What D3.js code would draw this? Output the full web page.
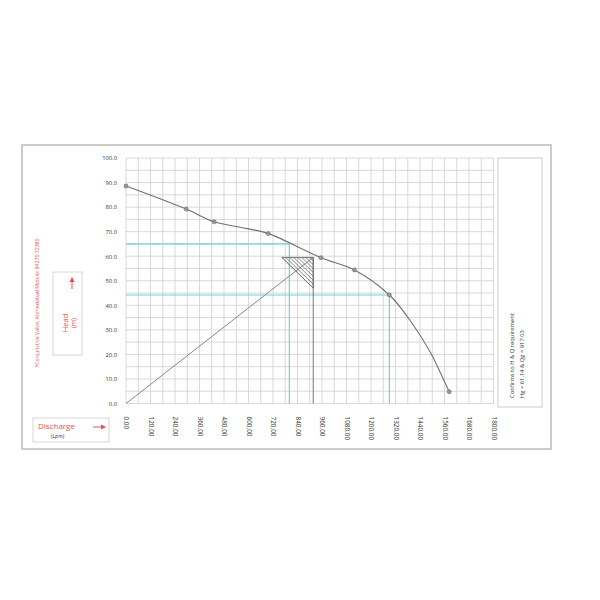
<!DOCTYPE html>
<html>
<head>
<meta charset="utf-8">
<script src="https://cdn.jsdelivr.net/npm/d3@7"></script>
<style>
  body { margin: 0; background: #fff; }
  text { font-family: "Open Sans", "DejaVu Sans", sans-serif; }
</style>
</head>
<body>
<div></div>
<script>
const width = 600;
const height = 600;

// test points (discharge Lpm, head m)
const discharge = [0, 295, 432, 697, 955, 1119, 1290, 1583];
const head = [88.6, 79.2, 74.0, 69.2, 59.4, 54.4, 44.2, 4.8];

// traced curve through the points
const curveQ = [0, 295, 432, 559, 697, 955, 1119, 1290, 1390, 1490, 1545, 1583];
const curveH = [88.6, 79.2, 74.0, 71.8, 69.2, 59.4, 54.4, 44.2, 34.0, 21.0, 11.6, 4.8];

// guide lines
const guideA = [[0, 65], [800, 65], [800, 0]];
const guideB = [[0, 44.2], [1290, 44.2], [1290, 0]];
const dutyLine = [[0, 0], [917, 59.5]];
const dutyDrop = [[917, 0], [917, 59.5]];
const triangle = [[763, 59.5], [917, 59.5], [917, 47]];

const xTicks = d3.range(0, 1801, 120);
const yTicks = d3.range(0, 101, 10);
const xGrid = d3.range(0, 1801, 60);
const yGrid = d3.range(0, 101, 5);

const svg = d3.select('div').append('svg').attr('width', width).attr('height', height);

const x = d3.scaleLinear().domain([0, 1800]).range([126, 493.5]);
const y = d3.scaleLinear().domain([0, 100]).range([403.5, 158]);

// outer frame
svg.append('rect').attr('x', 22).attr('y', 145).attr('width', 529).attr('height', 304)
    .attr('fill', 'none').attr('stroke', '#bbb').attr('stroke-width', 1.5);

// grid
const grid = svg.append('g').attr('stroke', '#cfcfcf').attr('stroke-width', 0.8);
grid.selectAll('.gx').data(xGrid).enter().append('line')
    .attr('x1', d => x(d)).attr('x2', d => x(d)).attr('y1', y(0)).attr('y2', y(100));
grid.selectAll('.gy').data(yGrid).enter().append('line')
    .attr('x1', x(0)).attr('x2', x(1800)).attr('y1', d => y(d)).attr('y2', d => y(d));

// right note box
svg.append('rect').attr('x', 498).attr('y', 158).attr('width', 44).attr('height', 249)
    .attr('fill', '#fff').attr('stroke', '#ccc').attr('stroke-width', 1);
const note = svg.append('g').attr('transform', 'translate(514,398) rotate(-90)')
    .attr('font-size', 5.8).attr('fill', '#333');
note.append('text').attr('x', 0).attr('y', 0).text('Confirms to H & Q requirement');
note.append('text').attr('x', 0).attr('y', 10).text('Hg = 61.14 & Qg = 917.03');

// axes
const yAxis = svg.append('g').attr('transform', 'translate(' + (x(0) - 6) + ',0)')
    .call(d3.axisLeft(y).tickValues(yTicks).tickSize(0).tickFormat(d3.format('.1f')));
yAxis.select('.domain').remove();
yAxis.selectAll('text').attr('font-size', 5.8).attr('fill', '#333').attr('dy', '0.32em');

const xAxis = svg.append('g').attr('transform', 'translate(0,' + y(0) + ')')
    .call(d3.axisBottom(x).tickValues(xTicks).tickSize(0).tickFormat(d3.format('.2f')));
xAxis.select('.domain').remove();
xAxis.selectAll('text').attr('font-size', 6.4).attr('fill', '#333')
    .attr('transform', 'rotate(90)').attr('text-anchor', 'start')
    .attr('x', 13).attr('y', 0).attr('dy', '0.35em');

const line = d3.line().x(d => x(d[0])).y(d => y(d[1]));

// cyan guides
[guideA, guideB].forEach(g => {
    svg.append('path').attr('d', line(g)).attr('fill', 'none')
        .attr('stroke', '#6fd0e0').attr('stroke-width', 1.2);
});

// duty lines
svg.append('path').attr('d', line(dutyLine)).attr('fill', 'none').attr('stroke', '#888').attr('stroke-width', 1);
svg.append('path').attr('d', line(dutyDrop)).attr('fill', 'none').attr('stroke', '#777').attr('stroke-width', 1);

// hatched triangle
const defs = svg.append('defs');
defs.append('clipPath').attr('id', 'tri').append('path').attr('d', line(triangle) + 'Z');
const hatch = svg.append('g').attr('clip-path', 'url(#tri)');
const tx0 = x(triangle[0][0]), ty0 = y(triangle[0][1]);
const tx1 = x(triangle[1][0]), ty2 = y(triangle[2][1]);
const slope = (ty2 - ty0) / (tx1 - tx0);
d3.range(-60, 60, 4).forEach(o => {
    hatch.append('line')
        .attr('x1', tx0 + o - 10).attr('y1', ty0 - 10 * slope)
        .attr('x2', tx0 + o + 60).attr('y2', ty0 + 60 * slope)
        .attr('stroke', '#666').attr('stroke-width', 0.8);
});
svg.append('path').attr('d', line(triangle) + 'Z').attr('fill', 'none')
    .attr('stroke', '#666').attr('stroke-width', 0.9);

// pump curve
const curveData = curveQ.map((q, i) => [q, curveH[i]]);
svg.append('path').attr('d', d3.line().x(d => x(d[0])).y(d => y(d[1])).curve(d3.curveCatmullRom.alpha(0.5))(curveData))
    .attr('fill', 'none').attr('stroke', '#707070').attr('stroke-width', 1.1);
const pts = discharge.map((q, i) => [q, head[i]]);
svg.selectAll('.pt').data(pts).enter().append('circle')
    .attr('cx', d => x(d[0])).attr('cy', d => y(d[1])).attr('r', 2)
    .attr('fill', '#999').attr('stroke', '#666').attr('stroke-width', 0.6);

// left labels
svg.append('text').attr('transform', 'translate(39,303) rotate(-90)')
    .attr('text-anchor', 'middle').attr('font-size', 5.2).attr('fill', '#e8505a')
    .text('*Conjunctive Valve, Ahmedabad Mobile: 94270 72380');

svg.append('rect').attr('x', 53).attr('y', 272).attr('width', 29).attr('height', 83)
    .attr('fill', 'none').attr('stroke', '#ccc').attr('stroke-width', 0.8);
const headLbl = svg.append('g').attr('transform', 'translate(68,323) rotate(-90)')
    .attr('fill', '#e8505a').attr('text-anchor', 'middle');
headLbl.append('text').attr('x', 0).attr('y', 0).attr('font-size', 7.5).text('Head');
headLbl.append('text').attr('x', 0).attr('y', 8).attr('font-size', 6.5).text('(m)');
svg.append('line').attr('x1', 72).attr('x2', 72).attr('y1', 289).attr('y2', 278)
    .attr('stroke', '#e8505a').attr('stroke-width', 1);
svg.append('path').attr('d', 'M69.5,282 L72,277 L74.5,282 Z').attr('fill', '#e8505a');

svg.append('rect').attr('x', 33).attr('y', 418).attr('width', 76).attr('height', 24)
    .attr('fill', 'none').attr('stroke', '#ccc').attr('stroke-width', 0.8);
svg.append('text').attr('x', 38).attr('y', 429).attr('font-size', 8).attr('fill', '#e8505a').text('Discharge');
svg.append('text').attr('x', 51).attr('y', 438).attr('font-size', 5).attr('fill', '#333').text('(Lpm)');
svg.append('line').attr('x1', 93).attr('x2', 105).attr('y1', 427).attr('y2', 427)
    .attr('stroke', '#e8505a').attr('stroke-width', 1);
svg.append('path').attr('d', 'M101,424.5 L106,427 L101,429.5 Z').attr('fill', '#e8505a');
</script>
</body>
</html>
